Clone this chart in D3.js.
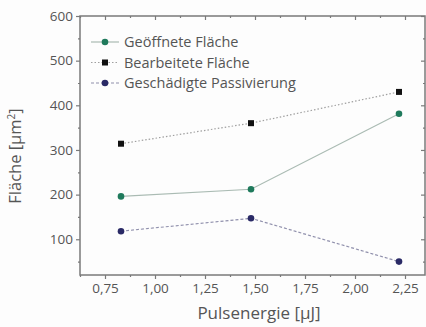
<!DOCTYPE html>
<html>
<head>
<meta charset="utf-8">
<script src="https://cdn.jsdelivr.net/npm/d3@7/dist/d3.min.js"></script>
<style>
  html, body { margin: 0; padding: 0; background: #fdfdfd; }
  svg { display: block; }
  text { font-family: "Open Sans", "Noto Sans", sans-serif; fill: #555; }
</style>
</head>
<body>
<svg id="chart" width="426" height="327"></svg>
<script>
// Pulse energies (µJ)
const pulseEnergy = [0.83, 1.48, 2.22];
// Areas (µm²) per series
const geoeffnet = [196, 212, 381];
const bearbeitet = [314, 360, 430];
const geschaedigt = [118, 147, 50];
const seriesNames = ["Geöffnete Fläche", "Bearbeitete Fläche", "Geschädigte Passivierung"];
const xTicks = [0.75, 1.00, 1.25, 1.50, 1.75, 2.00, 2.25];
const yTicks = [100, 200, 300, 400, 500, 600];

const svg = d3.select("#chart");
const plotL = 80, plotR = 425, plotT = 16, plotB = 275;

const x = d3.scaleLinear().domain([0.625, 2.35]).range([plotL, plotR]);
const y = d3.scaleLinear().domain([20, 600]).range([plotB, plotT]);

const axisColor = "#7a7a7a";
const fmt = d => d3.format(".2f")(d).replace(".", ",");

// minor ticks
const xMinor = d3.range(0.625, 2.351, 0.125).filter(v => !xTicks.some(t => Math.abs(t - v) < 1e-6));
const yMinor = d3.range(50, 600, 100);

function styleAxis(g) {
  g.select(".domain").remove();
  g.selectAll(".tick line").attr("stroke", axisColor).attr("stroke-width", 1.2);
  g.selectAll(".tick text").style("font-size", "13.5px").attr("fill", "#5a5a5a");
}

// bottom axis
svg.append("g").attr("transform", `translate(0,${plotB})`)
  .call(d3.axisBottom(x).tickValues(xTicks).tickFormat(fmt).tickSize(4).tickPadding(4))
  .call(styleAxis);
svg.append("g").attr("transform", `translate(0,${plotB})`)
  .call(d3.axisBottom(x).tickValues(xMinor).tickFormat("").tickSize(2))
  .call(styleAxis);
// left axis
svg.append("g").attr("transform", `translate(${plotL},0)`)
  .call(d3.axisLeft(y).tickValues(yTicks).tickFormat(d3.format("d")).tickSize(4).tickPadding(3))
  .call(styleAxis);
svg.append("g").attr("transform", `translate(${plotL},0)`)
  .call(d3.axisLeft(y).tickValues(yMinor).tickFormat("").tickSize(2))
  .call(styleAxis);
// top axis (inward ticks)
svg.append("g").attr("transform", `translate(0,${plotT})`)
  .call(d3.axisBottom(x).tickValues(xTicks).tickFormat("").tickSize(4))
  .call(styleAxis);
svg.append("g").attr("transform", `translate(0,${plotT})`)
  .call(d3.axisBottom(x).tickValues(xMinor).tickFormat("").tickSize(2))
  .call(styleAxis);
// right axis (inward ticks)
svg.append("g").attr("transform", `translate(${plotR},0)`)
  .call(d3.axisLeft(y).tickValues(yTicks).tickFormat("").tickSize(4))
  .call(styleAxis);
svg.append("g").attr("transform", `translate(${plotR},0)`)
  .call(d3.axisLeft(y).tickValues(yMinor).tickFormat("").tickSize(2))
  .call(styleAxis);

// frame
svg.append("rect")
  .attr("x", plotL).attr("y", plotT)
  .attr("width", plotR - plotL).attr("height", plotB - plotT)
  .attr("fill", "none").attr("stroke", axisColor).attr("stroke-width", 1.5);

const series = [
  { name: seriesNames[0], values: geoeffnet, line: "#aabbb3", dash: null, marker: "circle", color: "#1f7a5c" },
  { name: seriesNames[1], values: bearbeitet, line: "#a0a0a0", dash: "1.5,2", marker: "square", color: "#111" },
  { name: seriesNames[2], values: geschaedigt, line: "#9090ac", dash: "3,2", marker: "circle", color: "#2a2a66" }
];

const line = d3.line().x((d, i) => x(pulseEnergy[i])).y(d => y(d));

function drawMarker(g, mx, my, s) {
  if (s.marker === "square") {
    g.append("rect").attr("x", mx - 3).attr("y", my - 3).attr("width", 6).attr("height", 6).attr("fill", s.color);
  } else {
    g.append("circle").attr("cx", mx).attr("cy", my).attr("r", 3.3).attr("fill", s.color);
  }
}

series.forEach(s => {
  svg.append("path")
    .datum(s.values)
    .attr("d", line)
    .attr("fill", "none")
    .attr("stroke", s.line)
    .attr("stroke-width", 1.2)
    .attr("stroke-dasharray", s.dash);
  const g = svg.append("g");
  s.values.forEach((v, i) => drawMarker(g, x(pulseEnergy[i]), y(v), s));
});

// legend
const legend = svg.append("g");
series.forEach((s, i) => {
  const ly = 42 + i * 20.5;
  legend.append("line")
    .attr("x1", 91).attr("x2", 119).attr("y1", ly).attr("y2", ly)
    .attr("stroke", s.line).attr("stroke-width", 1.2).attr("stroke-dasharray", s.dash);
  drawMarker(legend, 105, ly, s);
  legend.append("text")
    .attr("x", 124).attr("y", ly + 5)
    .style("font-size", "14.5px")
    .text(s.name);
});

// axis titles
svg.append("text")
  .attr("x", 259).attr("y", 319)
  .attr("text-anchor", "middle")
  .style("font-size", "17px")
  .text("Pulsenergie [µJ]");

const yt = svg.append("text")
  .attr("transform", "translate(21,156) rotate(-90)")
  .attr("text-anchor", "middle")
  .style("font-size", "16.5px");
yt.append("tspan").text("Fläche [µm");
yt.append("tspan").attr("dy", -6).style("font-size", "10px").text("2");
yt.append("tspan").attr("dy", 6).text("]");
</script>
</body>
</html>
